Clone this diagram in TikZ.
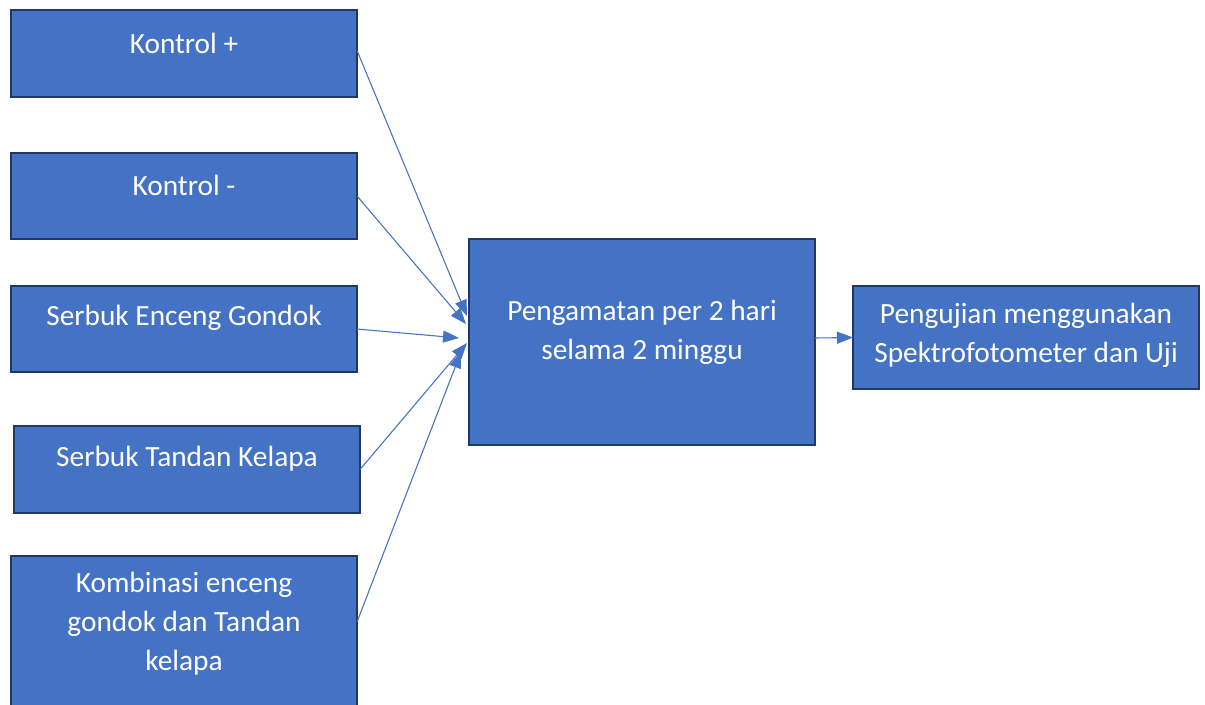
\documentclass[tikz,border=0pt]{standalone}
\usepackage{fontspec}
\setmainfont{Carlito}
\usetikzlibrary{arrows.meta,calc}
\definecolor{boxfill}{HTML}{4472C4}
\definecolor{boxline}{HTML}{1F3864}
\begin{document}
\begin{tikzpicture}[x=0.75pt,y=-0.75pt,
  box/.style={draw=boxline, line width=1.9pt, fill=boxfill, inner sep=0pt, outer sep=0pt, anchor=north west},
  lbl/.style={text=white, font=\fontsize{22}{29.25}\selectfont, align=center, inner sep=0pt},
  conn/.style={draw=boxfill, line width=0.8pt, -{Triangle[length=12pt, width=9pt]}}]
\useasboundingbox (0,0) rectangle (1205,704);
% boxes
\node[box, minimum width=259.5pt, minimum height=65.25pt] (b1) at (11,10) {};
\node[box, minimum width=259.5pt, minimum height=64.5pt] (b2) at (11,153) {};
\node[box, minimum width=259.5pt, minimum height=64.5pt] (b3) at (11,286) {};
\node[box, minimum width=259.5pt, minimum height=65.25pt] (b4) at (14,426) {};
\node[box, minimum width=259.5pt, minimum height=120pt] (b5) at (11,556) {};
\node[box, minimum width=259.5pt, minimum height=154.5pt] (p) at (469,239) {};
\node[box, minimum width=259.5pt, minimum height=77.25pt] (u) at (853,286) {};
% labels
\node[lbl] (l1) at (184,43) {Kontrol +};
\node[lbl] (l2) at (184,185) {Kontrol -};
\node[lbl] (l3) at (184,318) {Serbuk Enceng Gondok};
\node[lbl] (l4) at (187,459) {Serbuk Tandan Kelapa};
\node[lbl] (l5) at (184,624) {Kombinasi enceng\\gondok dan Tandan\\kelapa};
\node[lbl] (lp) at (642,332) {Pengamatan per 2 hari\\selama 2 minggu};
\node[lbl] (lu) at (1026,335) {Pengujian menggunakan\\Spektrofotometer dan Uji};
% arrow targets
\coordinate (t1) at (467,316);
\coordinate (t2) at (466,324);
\coordinate (t3) at (459,338);
\coordinate (t4) at (467,343);
\coordinate (t5) at (461,352);
\coordinate (s5) at ($(b5.north east)+(0,66)$);
\draw[conn] ($(b1.east)+(0,-3)$) -- (t1);
\draw[conn] (b2.east) -- (t2);
\draw[conn] (b3.east) -- (t3);
\draw[conn] (b4.east) -- (t4);
\draw[conn] (s5) -- (t5);
\draw[conn] ($(p.east)+(0,-4)$) -- (u.west);
\end{tikzpicture}
\end{document}
